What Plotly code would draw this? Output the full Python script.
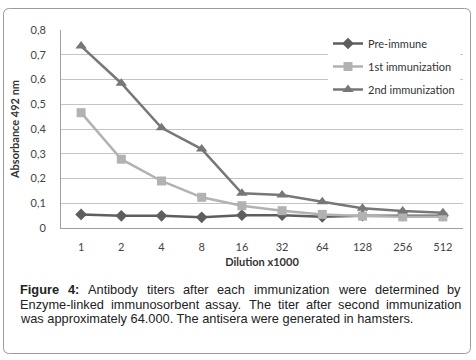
import plotly.graph_objects as go

W, H = 476, 360
L, R, T, B = 61, 463, 30, 228

categories = ["1", "2", "4", "8", "16", "32", "64", "128", "256", "512"]
pre_immune = [0.055, 0.049, 0.049, 0.043, 0.052, 0.052, 0.045, 0.050, 0.050, 0.050]
first_imm = [0.466, 0.278, 0.190, 0.124, 0.090, 0.070, 0.055, 0.048, 0.045, 0.045]
second_imm = [0.735, 0.585, 0.405, 0.319, 0.140, 0.133, 0.106, 0.080, 0.069, 0.062]
y_tick_vals = [0, 0.1, 0.2, 0.3, 0.4, 0.5, 0.6, 0.7, 0.8]
y_tick_text = ["0", "0,1", "0,2", "0,3", "0,4", "0,5", "0,6", "0,7", "0,8"]

caption_line1 = "Figure 4: Antibody titers after each immunization were determined by"
caption_line2 = "Enzyme-linked immunosorbent assay. The titer after second immunization"
caption_line3 = "was approximately 64.000. The antisera were generated in hamsters."
caption_bold_words = 2  # "Figure 4:" is bold

def px(x):
    return (x - L) / (R - L)

def py(y):
    return (B - y) / (B - T)

# Arial / Liberation Sans advance widths (per 1000 em) for justification layout
ARIAL = {' ': 278, 'a': 556, 'b': 556, 'c': 500, 'd': 556, 'e': 556, 'f': 278, 'g': 556, 'h': 556,
         'i': 222, 'j': 222, 'k': 500, 'l': 222, 'm': 833, 'n': 556, 'o': 556, 'p': 556, 'q': 556,
         'r': 333, 's': 500, 't': 278, 'u': 556, 'v': 500, 'w': 722, 'x': 500, 'y': 500, 'z': 500,
         'A': 667, 'E': 667, 'F': 611, 'T': 611, '.': 278, ':': 278, '-': 333}
ARIAL_B = {'F': 611, 'i': 278, 'g': 611, 'u': 611, 'r': 389, 'e': 556, ':': 333}

def word_w(word, fs, bold=False):
    tot = 0
    for ch in word:
        if bold and ch in ARIAL_B:
            tot += ARIAL_B[ch]
        elif ch.isdigit():
            tot += 556
        else:
            tot += ARIAL.get(ch, 556)
    return tot * fs / 1000.0

fig = go.Figure()
fig.add_trace(go.Scatter(x=categories, y=pre_immune, name="Pre-immune", mode="lines+markers",
                         legendgroup="a",
                         line=dict(color="#5e5e5e", width=2.5),
                         marker=dict(symbol="diamond", size=9, color="#5e5e5e")))
fig.add_trace(go.Scatter(x=categories, y=first_imm, name="1st immunization", mode="lines+markers",
                         legendgroup="b",
                         line=dict(color="#b2b2b2", width=2.5),
                         marker=dict(symbol="square", size=9, color="#b2b2b2")))
fig.add_trace(go.Scatter(x=categories, y=second_imm, name="2nd immunization", mode="lines+markers",
                         legendgroup="c",
                         line=dict(color="#777777", width=2.5),
                         marker=dict(symbol="triangle-up", size=10, color="#777777")))

font_family = "Lato, Open Sans, sans-serif"

fig.update_layout(
    width=W, height=H,
    margin=dict(l=L, r=W - R, t=T, b=H - B, autoexpand=False),
    paper_bgcolor="white", plot_bgcolor="white",
    font=dict(family=font_family, color="#444444", size=11),
    showlegend=True,
    legend=dict(x=px(328), y=py(29), xanchor="left", yanchor="top",
                bgcolor="white", font=dict(size=11, color="#333333"),
                itemwidth=30, tracegroupgap=4),
    xaxis=dict(type="category", range=[-0.5, 9.5], showgrid=False, automargin=False,
               showline=True, linecolor="#a0a0a0", linewidth=1,
               ticks="", ticklabelstandoff=9, tickfont=dict(size=11, color="#444444"),
               title=dict(text="<b>Dilution x1000</b>", font=dict(size=11, color="#333333"), standoff=6)),
    yaxis=dict(range=[0, 0.8], tickvals=y_tick_vals, ticktext=y_tick_text, automargin=False,
               showgrid=True, gridcolor="#c4c4c4", gridwidth=1,
               showline=True, linecolor="#a0a0a0", linewidth=1, zeroline=False,
               ticks="", ticklabelstandoff=12, tickfont=dict(size=11, color="#444444"),
               title=dict(text="<b>Absorbance 492 nm</b>", font=dict(size=11, color="#333333"), standoff=8)),
)

# outer rounded border
x0, x1, y0, y1, r = 3.5, 470.5, 8.5, 353.5, 6
path = (f"M{px(x0 + r):.5f},{py(y0):.5f} L{px(x1 - r):.5f},{py(y0):.5f} "
        f"Q{px(x1):.5f},{py(y0):.5f} {px(x1):.5f},{py(y0 + r):.5f} L{px(x1):.5f},{py(y1 - r):.5f} "
        f"Q{px(x1):.5f},{py(y1):.5f} {px(x1 - r):.5f},{py(y1):.5f} L{px(x0 + r):.5f},{py(y1):.5f} "
        f"Q{px(x0):.5f},{py(y1):.5f} {px(x0):.5f},{py(y1 - r):.5f} L{px(x0):.5f},{py(y0 + r):.5f} "
        f"Q{px(x0):.5f},{py(y0):.5f} {px(x0 + r):.5f},{py(y0):.5f} Z")
fig.add_shape(type="path", path=path, xref="paper", yref="paper",
              line=dict(color="#9a9a9a", width=1), fillcolor="rgba(0,0,0,0)", layer="above")

cap_font = "Liberation Sans, Arial, sans-serif"
cap_fs = 12.8
cap_left, cap_right = 18, 459

def justified(line, ypix, nbold):
    words = line.split(" ")
    widths = [word_w(w, cap_fs, i < nbold) for i, w in enumerate(words)]
    gap = (cap_right - cap_left - sum(widths)) / (len(words) - 1)
    xpos = cap_left
    for i, w in enumerate(words):
        txt = f"<b>{w}</b>" if i < nbold else w
        fig.add_annotation(text=txt, x=px(xpos), y=py(ypix), xref="paper", yref="paper",
                           xanchor="left", yanchor="middle", showarrow=False,
                           font=dict(family=cap_font, size=cap_fs, color="#222222"))
        xpos += widths[i] + gap

justified(caption_line1, 289, caption_bold_words)
justified(caption_line2, 304, 0)
fig.add_annotation(text=caption_line3, x=px(cap_left), y=py(318), xref="paper", yref="paper",
                   xanchor="left", yanchor="middle", showarrow=False,
                   font=dict(family=cap_font, size=cap_fs, color="#222222"))

fig.write_html("out.html", config={"displayModeBar": False},
               post_script="document.body.style.margin='0';")
